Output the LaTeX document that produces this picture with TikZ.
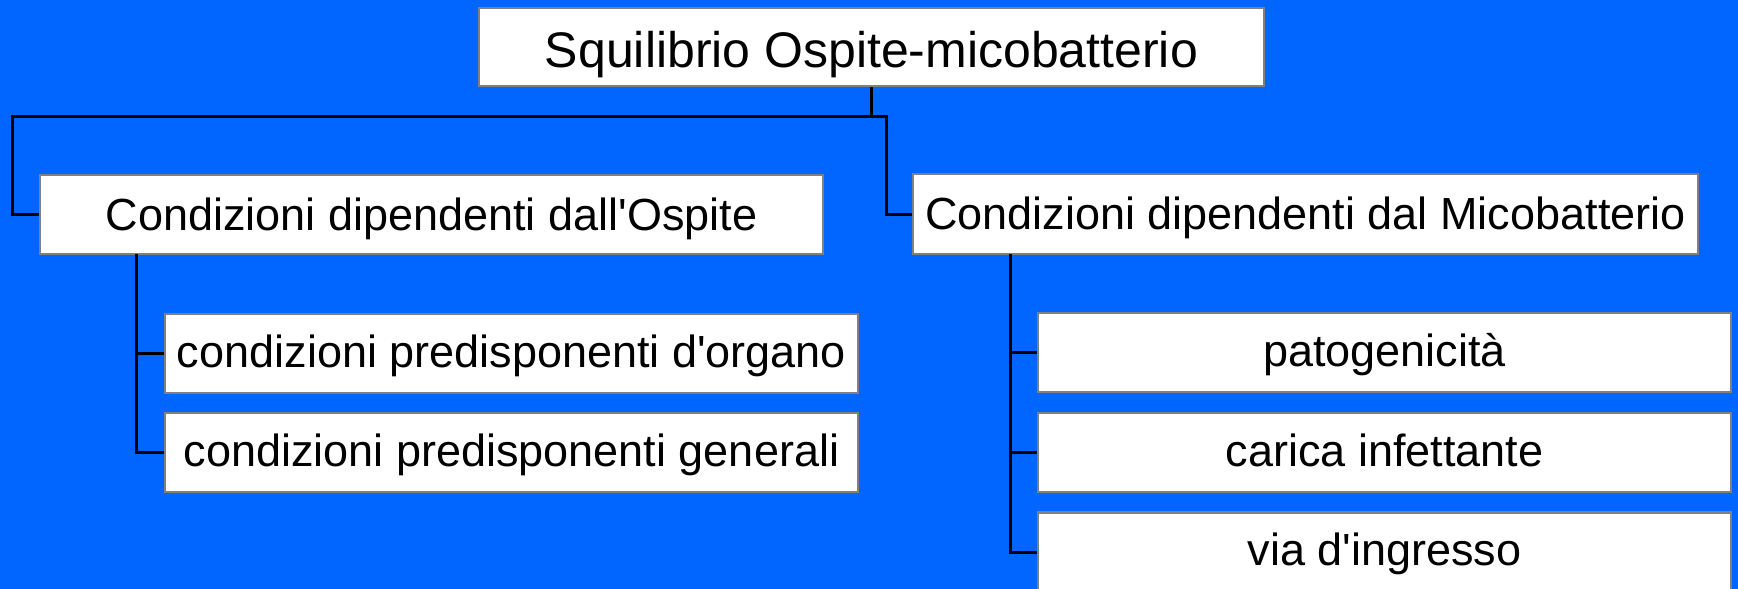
\documentclass[tikz,border=0pt]{standalone}
\usepackage{fontspec}
\newfontfamily\boxfont{Liberation Sans}
\definecolor{slideblue}{RGB}{0,102,255}
\definecolor{boxedge}{RGB}{128,128,128}
\begin{document}
\begin{tikzpicture}[x=1pt,y=-1pt,
  box/.style={draw=boxedge,line width=2.6pt,fill=white,inner sep=0pt,
    font=\boxfont\fontsize{45pt}{54pt}\selectfont,text height=32pt,text depth=1pt},
  subbox/.style={box,minimum width=693pt,minimum height=79pt,text depth=5pt},
  topbox/.style={box,font=\boxfont\fontsize{50pt}{60pt}\selectfont,text height=40pt,text depth=0pt},
  conn/.style={draw=black,line width=3pt}]
\useasboundingbox (0,0) rectangle (1738,589);
\fill[slideblue] (0,0) rectangle (1738,589);

% root
\node[topbox,minimum width=785pt,minimum height=78pt] (top) at (871.5,47) {Squilibrio Ospite-micobatterio};

% first level
\node[box,minimum width=783pt,minimum height=79pt] (L) at (431.5,214.5) {Condizioni dipendenti dall'Ospite};
\node[box,minimum width=785pt,minimum height=80pt] (R) at (1305.5,214) {Condizioni dipendenti dal Micobatterio};

% host-side conditions
\node[subbox] (LS1) at (511.5,353.5) {condizioni predisponenti d'organo};
\node[subbox] (LS2) at (511.5,452.5) {condizioni predisponenti generali};

% mycobacterium-side conditions
\node[subbox] (RS1) at (1384.5,352.5) {patogenicità};
\node[subbox] (RS2) at (1384.5,452.5) {carica infettante};
\node[subbox] (RS3) at (1384.5,552) {via d'ingresso};

% connectors
\coordinate (busL) at (12,116);
\coordinate (busR) at (886,116);
\coordinate (ltrunk) at (136,254);
\coordinate (rtrunk) at (1010,254);

\draw[conn] (top.south) -- (top.south |- busL);
\draw[conn] (L.west) -| (busL) -- (busR) |- (R.west);

\draw[conn] (ltrunk) |- (LS2.west);
\draw[conn] (ltrunk |- LS1.west) -- (LS1.west);

\draw[conn] (rtrunk) |- (RS3.west);
\draw[conn] (rtrunk |- RS1.west) -- (RS1.west);
\draw[conn] (rtrunk |- RS2.west) -- (RS2.west);
\end{tikzpicture}
\end{document}
